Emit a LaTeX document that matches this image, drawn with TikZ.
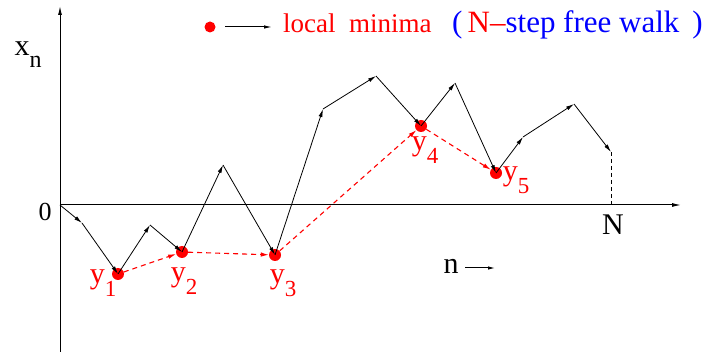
\documentclass[tikz,border=0pt]{standalone}
\usepackage{fontspec}
\setmainfont{Liberation Serif}
\usetikzlibrary{arrows.meta}
\newcommand{\ylab}[1]{y\raisebox{-0.42em}{\fontsize{23}{23}\selectfont #1}}
\begin{document}
\begin{tikzpicture}[x=1pt,y=-1pt,
  axis/.style={black, line width=1pt, -{Latex[length=9pt,width=4pt]}},
  walk/.style={black, line width=0.8pt, -{Latex[length=8pt,width=4pt]}},
  redarr/.style={red, line width=1.1pt, dash pattern=on 5pt off 4pt, -{Latex[length=8pt,width=4.5pt]}},
  dot/.style={circle, fill=red, inner sep=0pt, minimum size=12pt},
  txt/.style={font=\fontsize{30}{30}\selectfont, inner sep=0pt},
  rtxt/.style={txt, text=red}]
\useasboundingbox (0,0) rectangle (709,352);
% axes
\coordinate (vb) at (60,352);
\coordinate (vt) at (60,6);
\coordinate (o) at (60,205);
\coordinate (he) at (681,205);
\draw[axis] (vb) -- (vt);
\draw[axis] (o) -- (he);
\node[txt, font=\fontsize{26}{26}\selectfont] (zero) at (45,212) {0};
\node[txt] (xn) at (28,55) {x\raisebox{-0.4em}{\fontsize{24}{24}\selectfont n}};
\node[txt] (nlab) at (613,225) {N};
\node[txt] (nn) at (451,266) {n};
\coordinate (na) at (465,268);
\coordinate (nb) at (495,268);
\draw[black, line width=1pt, -{Latex[length=7pt,width=3.5pt]}] (na) -- (nb);
% walk points
\coordinate (p0) at (60,205);
\coordinate (p1) at (82,223);
\coordinate (p3) at (150,225);
\coordinate (p5) at (223,165);
\coordinate (p7) at (323,109);
\coordinate (p8) at (376,76);
\coordinate (p10) at (455,83);
\coordinate (p12) at (523,137);
\coordinate (p13) at (574,104);
\coordinate (p14) at (611,152);
\coordinate (nb0) at (611,205);
% minima
\node[dot] (m1) at (118,274) {};
\node[dot] (m2) at (182,252) {};
\node[dot] (m3) at (275,255) {};
\node[dot] (m4) at (421,126) {};
\node[dot] (m5) at (496,173) {};
% red dashed arrows
\draw[redarr] (m1) -- (m2);
\draw[redarr] (m2) -- (m3);
\draw[redarr] (m3) -- (m4);
\draw[redarr] (m4) -- (m5);
% walk
\draw[walk] (p0) -- (p1);
\draw[walk] (p1) -- (m1.center);
\draw[walk] (m1.center) -- (p3);
\draw[walk] (p3) -- (m2.center);
\draw[walk] (m2.center) -- (p5);
\draw[walk] (p5) -- (m3.center);
\draw[walk] (m3.center) -- (p7);
\draw[walk] (p7) -- (p8);
\draw[walk] (p8) -- (m4.center);
\draw[walk] (m4.center) -- (p10);
\draw[walk] (p10) -- (m5.center);
\draw[walk] (m5.center) -- (p12);
\draw[walk] (p12) -- (p13);
\draw[walk] (p13) -- (p14);
\draw[black, line width=0.8pt, dash pattern=on 4pt off 3pt] (p14) -- (nb0);
% minima labels
\node[rtxt] (l1) at (103,283) {\ylab{1}};
\node[rtxt] (l2) at (184,281) {\ylab{2}};
\node[rtxt] (l3) at (283,283) {\ylab{3}};
\node[rtxt] (l4) at (425,150) {\ylab{4}};
\node[rtxt] (l5) at (516,180) {\ylab{5}};
% legend
\node[dot, minimum size=11pt] (ld) at (210,27) {};
\coordinate (la) at (225,27);
\coordinate (lb) at (272,27);
\draw[black, line width=1pt, -{Latex[length=8pt,width=3.5pt]}] (la) -- (lb);
\node[rtxt, anchor=west, font=\fontsize{27}{27}\selectfont] (lm) at (283,23) {local\ \ minima};
\node[txt, anchor=west, text=blue, font=\fontsize{31}{31}\selectfont] (lw) at (452,25) {(\,\textcolor{red}{N--}step free walk \,)};
\end{tikzpicture}
\end{document}
